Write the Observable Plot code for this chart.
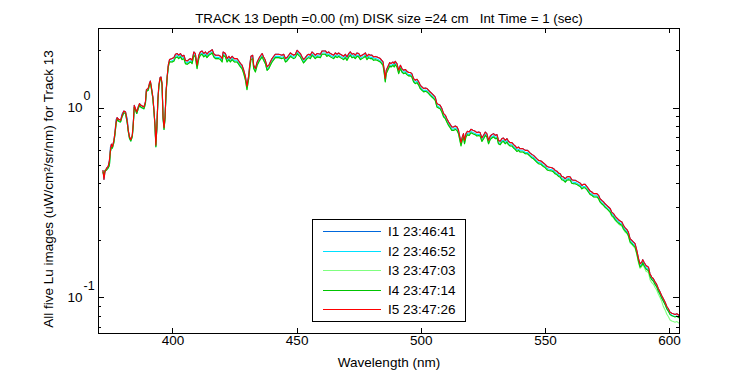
<!DOCTYPE html>
<html><head><meta charset="utf-8">
<script src="https://cdn.jsdelivr.net/npm/d3@7"></script>
<script src="https://cdn.jsdelivr.net/npm/@observablehq/plot@0.6"></script>
<style>
body{margin:0;background:#fff;}
#wrap{position:relative;width:750px;height:375px;font-family:"Liberation Sans",Arial,sans-serif;}
#legend{position:absolute;left:312px;top:219px;}
[aria-label="ylabel"] text{letter-spacing:1.1px;}
</style></head><body><div id="wrap"></div>
<script>
// Wavelength (nm) sample positions
const wavelength = [
371.8,372.2,372.6,373.2,373.9,374.4,374.8,375.2,375.6,376.2,
376.6,377.1,377.5,378.2,378.9,379.5,380.2,380.9,381.6,382.0,
382.5,383.0,383.6,384.0,384.4,384.9,385.4,386.0,386.5,387.1,
388.3,388.9,389.3,390.0,390.5,390.9,391.3,391.9,392.4,392.8,
393.1,393.5,393.9,394.3,394.8,395.2,395.6,396.0,396.4,396.8,
397.2,397.7,398.1,398.6,
399.7,400.4,401.0,401.7,402.3,403.0,403.7,404.4,405.0,405.7,
406.4,407.1,407.7,408.4,409.0,409.7,410.4,411.0,411.7,412.4,
413.1,413.7,414.4,415.1,415.8,416.4,417.1,418.4,419.1,419.8,
420.2,421.1,421.8,422.5,423.1,423.8,424.7,425.8,426.5,427.2,
427.8,428.5,429.2,429.8,430.5,430.9,431.4,432.1,432.5,433.2,
433.9,434.9,435.9,436.5,437.2,437.9,438.6,439.2,439.9,440.6,
441.2,442.6,443.9,444.6,445.3,445.9,446.6,447.3,448.0,448.6,
449.3,450.0,450.6,451.3,452.0,452.6,453.3,454.0,454.7,455.3,
456.0,456.7,457.3,458.0,459.4,460.0,461.4,462.0,462.7,463.4,
464.7,465.4,466.1,466.7,467.4,468.1,468.7,469.4,470.1,470.8,
471.4,472.1,472.8,473.4,474.1,474.8,475.5,476.1,476.8,477.5,
478.1,478.8,479.5,480.1,480.8,481.5,482.2,483.5,484.6,485.1,
485.5,485.9,486.5,487.3,487.8,488.6,489.1,489.5,490.2,490.9,
491.6,492.2,492.9,493.6,494.2,494.9,495.6,496.2,496.9,497.6,
498.3,499.0,499.6,500.3,501.0,501.6,502.3,503.0,503.6,504.3,
505.0,505.6,506.3,507.0,507.6,508.3,509.0,509.7,510.3,511.0,
511.7,512.3,513.0,513.7,514.4,515.0,515.4,516.0,516.5,517.0,
517.4,518.0,518.6,519.3,520.0,520.8,521.7,522.4,523.1,523.7,
524.4,525.1,525.8,526.4,527.1,527.8,528.4,529.1,529.8,530.5,
531.1,531.8,532.5,533.1,533.8,534.5,535.1,535.8,536.5,537.2,
537.8,538.5,539.2,539.8,540.9,541.9,542.8,543.9,544.5,545.2,
546.5,547.2,548.2,549.2,549.9,550.6,551.2,552.6,553.3,553.9,
554.6,555.3,555.9,556.6,557.3,558.0,558.6,559.3,560.0,560.6,
561.3,562.0,562.6,563.3,564.0,564.7,565.3,566.0,566.7,567.3,
568.0,568.7,569.4,570.7,571.4,572.0,572.7,573.4,574.0,574.7,
575.4,576.1,576.7,577.4,578.1,578.7,579.4,580.1,580.8,581.4,
582.1,582.8,583.4,584.1,584.8,585.4,586.1,586.8,587.5,588.1,
588.8,589.2,589.7,590.5,591.5,592.1,592.8,593.5,594.2,594.8,
595.5,596.2,596.8,597.5,598.2,598.9,599.5,600.2,600.9,601.5,
602.2,602.9,603.9
];

// I1 23:46:41 (blue)
const I1 = [
0.469,0.421,0.460,0.481,0.493,0.530,0.620,0.645,0.625,0.675,
0.738,0.870,0.890,0.869,0.861,0.930,0.964,0.953,0.870,0.763,
0.703,0.681,0.718,0.828,1.033,0.993,0.953,1.012,1.055,1.033,
1.012,1.076,1.250,1.266,1.345,1.388,1.290,1.143,0.953,0.794,
0.636,0.794,1.098,1.317,1.447,1.457,1.345,0.897,0.788,0.897,
1.214,1.487,1.680,1.799,
1.821,1.844,1.919,1.936,1.896,1.936,1.873,1.896,1.784,1.769,
1.799,1.821,1.784,1.974,1.936,1.680,1.896,1.974,1.998,1.936,
1.974,1.919,1.974,1.998,2.030,1.936,1.896,1.896,1.873,1.821,
1.974,1.936,1.821,1.873,1.821,1.873,1.821,1.821,1.769,1.714,
1.680,1.580,1.457,1.301,1.487,1.680,1.873,1.896,1.680,1.613,
1.748,1.857,1.936,1.857,1.784,1.645,1.680,1.748,1.821,1.873,
1.919,1.919,1.896,1.919,1.821,1.844,1.896,1.950,1.919,1.896,
1.919,2.015,1.974,1.936,1.857,1.799,1.844,1.896,1.919,1.896,
1.974,1.936,1.896,1.936,1.919,1.998,1.998,1.950,1.974,1.936,
1.896,1.950,1.919,1.950,1.919,1.896,1.873,1.919,1.857,1.936,
1.974,1.919,1.936,1.896,1.950,1.936,1.873,1.896,1.919,1.950,
1.873,1.919,1.896,1.900,1.857,1.870,1.857,1.821,1.748,1.580,
1.429,1.580,1.645,1.735,1.714,1.748,1.714,1.763,1.714,1.580,
1.680,1.613,1.580,1.596,1.561,1.537,1.537,1.518,1.429,1.400,
1.417,1.371,1.317,1.290,1.266,1.275,1.266,1.240,1.214,1.191,
1.167,1.143,1.055,1.042,1.033,0.993,0.934,0.915,0.879,0.844,
0.818,0.794,0.794,0.804,0.794,0.763,0.718,0.657,0.703,0.733,
0.675,0.733,0.754,0.747,0.772,0.763,0.754,0.742,0.747,0.742,
0.695,0.718,0.747,0.733,0.675,0.712,0.724,0.733,0.718,0.724,
0.675,0.668,0.690,0.695,0.675,0.690,0.668,0.657,0.657,0.641,
0.631,0.615,0.623,0.610,0.611,0.598,0.598,0.579,0.570,0.563,
0.541,0.530,0.526,0.513,0.505,0.493,0.489,0.485,0.479,0.469,
0.465,0.454,0.451,0.436,0.433,0.424,0.433,0.436,0.433,0.419,
0.416,0.416,0.412,0.407,0.402,0.391,0.396,0.396,0.386,0.376,
0.365,0.361,0.354,0.354,0.347,0.333,0.326,0.320,0.313,0.307,
0.301,0.295,0.283,0.278,0.269,0.264,0.258,0.254,0.251,0.241,
0.234,0.229,0.222,0.205,0.201,0.197,0.193,0.178,0.161,0.151,
0.154,0.159,0.154,0.148,0.145,0.134,0.1286,0.1261,0.1210,0.1177,
0.1117,0.1072,0.1029,0.0989,0.0949,0.0901,0.0876,0.0841,0.0830,0.0824,
0.0818,0.0824,0.0808
];

// I2 23:46:52 (cyan)
const I2 = [
0.460,0.440,0.470,0.470,0.483,0.500,0.590,0.620,0.615,0.660,
0.720,0.830,0.870,0.850,0.845,0.900,0.945,0.935,0.830,0.750,
0.690,0.670,0.705,0.810,1.010,0.975,0.935,0.990,1.035,1.010,
0.990,1.055,1.225,1.240,1.320,1.360,1.265,1.120,0.935,0.780,
0.625,0.780,1.075,1.290,1.420,1.430,1.320,0.880,0.770,0.880,
1.190,1.460,1.645,1.750,
1.775,1.798,1.871,1.888,1.849,1.888,1.826,1.849,1.739,1.725,
1.754,1.775,1.739,1.925,1.888,1.638,1.849,1.925,1.948,1.888,
1.925,1.871,1.925,1.948,1.979,1.888,1.849,1.849,1.826,1.775,
1.925,1.888,1.775,1.826,1.775,1.826,1.775,1.775,1.725,1.671,
1.638,1.541,1.421,1.268,1.450,1.638,1.826,1.849,1.638,1.573,
1.704,1.811,1.888,1.811,1.739,1.604,1.638,1.704,1.775,1.826,
1.871,1.871,1.849,1.871,1.775,1.798,1.849,1.901,1.871,1.849,
1.871,1.965,1.925,1.888,1.811,1.754,1.798,1.849,1.871,1.849,
1.925,1.888,1.849,1.888,1.871,1.948,1.948,1.901,1.925,1.888,
1.849,1.901,1.871,1.901,1.871,1.849,1.826,1.871,1.811,1.888,
1.925,1.871,1.888,1.849,1.901,1.888,1.826,1.849,1.871,1.901,
1.826,1.871,1.849,1.853,1.811,1.823,1.811,1.775,1.704,1.541,
1.393,1.541,1.604,1.692,1.671,1.704,1.671,1.719,1.671,1.541,
1.638,1.573,1.541,1.556,1.522,1.499,1.499,1.480,1.393,1.365,
1.382,1.337,1.284,1.258,1.234,1.243,1.234,1.209,1.184,1.161,
1.138,1.114,1.029,1.016,1.007,0.968,0.911,0.892,0.857,0.823,
0.798,0.774,0.774,0.784,0.774,0.744,0.700,0.641,0.685,0.715,
0.658,0.715,0.735,0.728,0.753,0.744,0.735,0.723,0.728,0.723,
0.678,0.700,0.728,0.715,0.658,0.694,0.706,0.715,0.700,0.706,
0.658,0.651,0.673,0.678,0.658,0.673,0.651,0.641,0.641,0.625,
0.615,0.600,0.607,0.595,0.596,0.583,0.583,0.565,0.556,0.549,
0.527,0.517,0.513,0.500,0.492,0.481,0.477,0.473,0.467,0.457,
0.453,0.443,0.440,0.425,0.422,0.413,0.422,0.425,0.422,0.409,
0.406,0.406,0.402,0.397,0.392,0.381,0.386,0.386,0.376,0.367,
0.356,0.352,0.345,0.345,0.338,0.325,0.318,0.312,0.305,0.299,
0.293,0.288,0.276,0.271,0.262,0.257,0.252,0.248,0.245,0.235,
0.228,0.223,0.216,0.200,0.196,0.192,0.188,0.174,0.157,0.147,
0.150,0.155,0.150,0.144,0.141,0.131,0.1254,0.1229,0.1180,0.1148,
0.1089,0.1045,0.1003,0.0964,0.0925,0.0878,0.0854,0.0820,0.0809,0.0803,
0.0798,0.0803,0.0788
];

// I3 23:47:03 (light green)
const I3 = [
0.460,0.440,0.470,0.470,0.483,0.500,0.590,0.620,0.615,0.660,
0.720,0.830,0.870,0.850,0.845,0.900,0.945,0.935,0.830,0.750,
0.690,0.670,0.705,0.810,1.010,0.975,0.935,0.990,1.035,1.010,
0.990,1.055,1.225,1.240,1.320,1.360,1.265,1.120,0.935,0.780,
0.625,0.780,1.075,1.290,1.420,1.430,1.320,0.880,0.770,0.880,
1.190,1.460,1.645,1.750,
1.748,1.770,1.842,1.859,1.820,1.859,1.798,1.820,1.713,1.698,
1.727,1.748,1.713,1.895,1.859,1.613,1.820,1.895,1.918,1.859,
1.895,1.842,1.895,1.918,1.949,1.859,1.820,1.820,1.798,1.748,
1.895,1.859,1.748,1.798,1.748,1.798,1.748,1.748,1.698,1.645,
1.613,1.517,1.399,1.249,1.428,1.613,1.798,1.820,1.613,1.548,
1.678,1.783,1.859,1.783,1.713,1.579,1.613,1.678,1.748,1.798,
1.842,1.842,1.820,1.842,1.748,1.770,1.820,1.872,1.842,1.820,
1.842,1.934,1.895,1.859,1.783,1.727,1.770,1.820,1.842,1.820,
1.895,1.859,1.820,1.859,1.842,1.918,1.918,1.872,1.895,1.859,
1.820,1.872,1.842,1.872,1.842,1.820,1.798,1.842,1.783,1.859,
1.895,1.842,1.859,1.820,1.872,1.859,1.798,1.820,1.842,1.872,
1.798,1.842,1.820,1.824,1.783,1.795,1.783,1.748,1.678,1.517,
1.372,1.517,1.579,1.666,1.645,1.678,1.645,1.692,1.645,1.517,
1.613,1.548,1.517,1.532,1.499,1.476,1.476,1.457,1.372,1.344,
1.360,1.316,1.264,1.238,1.215,1.224,1.215,1.190,1.165,1.143,
1.120,1.097,1.013,1.000,0.992,0.953,0.897,0.878,0.844,0.810,
0.785,0.762,0.762,0.772,0.762,0.732,0.689,0.631,0.675,0.704,
0.648,0.704,0.724,0.717,0.741,0.732,0.724,0.712,0.717,0.712,
0.667,0.689,0.717,0.704,0.648,0.684,0.695,0.704,0.689,0.695,
0.648,0.641,0.662,0.667,0.648,0.662,0.641,0.631,0.631,0.615,
0.606,0.590,0.598,0.586,0.587,0.574,0.574,0.556,0.547,0.540,
0.519,0.509,0.505,0.492,0.485,0.473,0.469,0.466,0.460,0.450,
0.446,0.436,0.433,0.419,0.416,0.407,0.416,0.419,0.416,0.402,
0.399,0.399,0.396,0.391,0.386,0.375,0.380,0.380,0.371,0.361,
0.350,0.347,0.340,0.340,0.333,0.320,0.313,0.307,0.300,0.295,
0.289,0.280,0.269,0.264,0.256,0.251,0.245,0.241,0.238,0.229,
0.222,0.218,0.211,0.195,0.191,0.187,0.183,0.169,0.153,0.143,
0.146,0.151,0.146,0.138,0.136,0.125,0.1202,0.1179,0.1131,0.1100,
0.1044,0.1002,0.0962,0.0900,0.0864,0.0820,0.0797,0.0765,0.0755,0.0750,
0.0744,0.0750,0.0735
];

// I4 23:47:14 (green)
const I4 = [
0.460,0.440,0.470,0.470,0.483,0.500,0.590,0.620,0.615,0.660,
0.720,0.830,0.870,0.850,0.845,0.900,0.945,0.935,0.830,0.750,
0.690,0.670,0.705,0.810,1.010,0.975,0.935,0.990,1.035,1.010,
0.990,1.055,1.225,1.240,1.320,1.360,1.265,1.120,0.935,0.780,
0.625,0.780,1.075,1.290,1.420,1.430,1.320,0.880,0.770,0.880,
1.190,1.460,1.645,1.750,
1.748,1.770,1.842,1.859,1.820,1.859,1.798,1.820,1.713,1.698,
1.727,1.748,1.713,1.895,1.859,1.613,1.820,1.895,1.918,1.859,
1.895,1.842,1.895,1.918,1.949,1.859,1.820,1.820,1.798,1.748,
1.895,1.859,1.748,1.798,1.748,1.798,1.748,1.748,1.698,1.645,
1.613,1.517,1.399,1.249,1.428,1.613,1.798,1.820,1.613,1.548,
1.678,1.783,1.859,1.783,1.713,1.579,1.613,1.678,1.748,1.798,
1.842,1.842,1.820,1.842,1.748,1.770,1.820,1.872,1.842,1.820,
1.842,1.934,1.895,1.859,1.783,1.727,1.770,1.820,1.842,1.820,
1.895,1.859,1.820,1.859,1.842,1.918,1.918,1.872,1.895,1.859,
1.820,1.872,1.842,1.872,1.842,1.820,1.798,1.842,1.783,1.859,
1.895,1.842,1.859,1.820,1.872,1.859,1.798,1.820,1.842,1.872,
1.798,1.842,1.820,1.824,1.783,1.795,1.783,1.748,1.678,1.517,
1.372,1.517,1.579,1.666,1.645,1.678,1.645,1.692,1.645,1.517,
1.613,1.548,1.517,1.532,1.499,1.476,1.476,1.457,1.372,1.344,
1.360,1.316,1.264,1.238,1.215,1.224,1.215,1.190,1.165,1.143,
1.120,1.097,1.013,1.000,0.992,0.953,0.897,0.878,0.844,0.810,
0.785,0.762,0.762,0.772,0.762,0.732,0.689,0.631,0.675,0.704,
0.648,0.704,0.724,0.717,0.741,0.732,0.724,0.712,0.717,0.712,
0.667,0.689,0.717,0.704,0.648,0.684,0.695,0.704,0.689,0.695,
0.648,0.641,0.662,0.667,0.648,0.662,0.641,0.631,0.631,0.615,
0.606,0.590,0.598,0.586,0.587,0.574,0.574,0.556,0.547,0.540,
0.519,0.509,0.505,0.492,0.485,0.473,0.469,0.466,0.460,0.450,
0.446,0.436,0.433,0.419,0.416,0.407,0.416,0.419,0.416,0.402,
0.399,0.399,0.396,0.391,0.386,0.375,0.380,0.380,0.371,0.361,
0.350,0.347,0.340,0.340,0.333,0.320,0.313,0.307,0.300,0.295,
0.289,0.283,0.272,0.267,0.258,0.253,0.248,0.244,0.241,0.231,
0.225,0.220,0.213,0.197,0.193,0.189,0.185,0.171,0.155,0.145,
0.148,0.153,0.148,0.142,0.139,0.130,0.1247,0.1223,0.1174,0.1142,
0.1083,0.1040,0.0998,0.0959,0.0921,0.0874,0.0850,0.0816,0.0805,0.0799,
0.0793,0.0799,0.0784
];

// I5 23:47:26 (red)
const I5 = [
0.469,0.421,0.460,0.481,0.493,0.530,0.600,0.645,0.625,0.675,
0.738,0.844,0.890,0.869,0.861,0.915,0.964,0.953,0.844,0.763,
0.703,0.681,0.718,0.828,1.033,0.993,0.953,1.012,1.055,1.033,
1.012,1.076,1.250,1.266,1.345,1.388,1.290,1.143,0.953,0.794,
0.636,0.794,1.098,1.317,1.447,1.457,1.345,0.897,0.788,0.897,
1.214,1.487,1.680,1.799,
1.821,1.844,1.919,1.936,1.896,1.936,1.873,1.896,1.784,1.769,
1.799,1.821,1.784,1.974,1.936,1.680,1.896,1.974,1.998,1.936,
1.974,1.919,1.974,1.998,2.030,1.936,1.896,1.896,1.873,1.821,
1.974,1.936,1.821,1.873,1.821,1.873,1.821,1.821,1.769,1.714,
1.680,1.580,1.457,1.301,1.487,1.680,1.873,1.896,1.680,1.613,
1.748,1.857,1.936,1.857,1.784,1.645,1.680,1.748,1.821,1.873,
1.919,1.919,1.896,1.919,1.821,1.844,1.896,1.950,1.919,1.896,
1.919,2.015,1.974,1.936,1.857,1.799,1.844,1.896,1.919,1.896,
1.974,1.936,1.896,1.936,1.919,1.998,1.998,1.950,1.974,1.936,
1.896,1.950,1.919,1.950,1.919,1.896,1.873,1.919,1.857,1.936,
1.974,1.919,1.936,1.896,1.950,1.936,1.873,1.896,1.919,1.950,
1.873,1.919,1.896,1.900,1.857,1.870,1.857,1.821,1.748,1.580,
1.429,1.580,1.645,1.735,1.714,1.748,1.714,1.763,1.714,1.580,
1.680,1.613,1.580,1.596,1.561,1.537,1.537,1.518,1.429,1.400,
1.417,1.371,1.317,1.290,1.266,1.275,1.266,1.240,1.214,1.191,
1.167,1.143,1.055,1.042,1.033,0.993,0.934,0.915,0.879,0.844,
0.818,0.794,0.794,0.804,0.794,0.763,0.718,0.657,0.703,0.733,
0.675,0.733,0.754,0.747,0.772,0.763,0.754,0.742,0.747,0.742,
0.695,0.718,0.747,0.733,0.675,0.712,0.724,0.733,0.718,0.724,
0.675,0.668,0.690,0.695,0.675,0.690,0.668,0.657,0.657,0.641,
0.631,0.615,0.623,0.610,0.611,0.598,0.598,0.579,0.570,0.563,
0.541,0.530,0.526,0.513,0.505,0.493,0.489,0.485,0.479,0.469,
0.465,0.454,0.451,0.436,0.433,0.424,0.433,0.436,0.433,0.419,
0.416,0.416,0.412,0.407,0.402,0.391,0.396,0.396,0.386,0.376,
0.365,0.361,0.354,0.354,0.347,0.333,0.326,0.320,0.313,0.307,
0.301,0.295,0.283,0.278,0.269,0.264,0.258,0.254,0.251,0.241,
0.234,0.229,0.222,0.205,0.201,0.197,0.193,0.178,0.161,0.151,
0.154,0.159,0.154,0.148,0.145,0.134,0.1286,0.1261,0.1210,0.1177,
0.1117,0.1072,0.1029,0.0989,0.0949,0.0901,0.0876,0.0841,0.0830,0.0824,
0.0818,0.0824,0.0808
];

const seriesNames = ["I1 23:46:41", "I2 23:46:52", "I3 23:47:03", "I4 23:47:14", "I5 23:47:26"];
const seriesColors = ["#0068dc", "#00e0ff", "#80ff80", "#00c400", "#ff0000"];
const xTicks = [400, 450, 500, 550, 600];
const yMajor = [1, 0.1];
const yExponents = ["0", "-1"];
const yMinor = [2, 0.9, 0.8, 0.7, 0.6, 0.5, 0.4, 0.3, 0.2, 0.09, 0.08, 0.07];
const titleText = "TRACK 13 Depth =0.00 (m) DISK size =24 cm\u00a0\u00a0\u00a0Int Time = 1 (sec)";
const xLabel = "Wavelength (nm)";
const yLabel = "All five Lu images (uW/cm\u00b2/sr/nm) for Track 13";

const seriesValues = [I1, I2, I3, I4, I5];
const rows = [];
seriesValues.forEach((arr, k) => {
  arr.forEach((v, i) => {
    if (wavelength[i] !== undefined) rows.push({wl: wavelength[i], v, s: seriesNames[k]});
  });
});

const W = 750, H = 375, mL = 98, mR = 71, mT = 28, mB = 42;
const fw = W - mL - mR, fh = H - mT - mB;
const font = "'Liberation Sans', Arial, sans-serif";

const chart = Plot.plot({
  width: W, height: H,
  marginLeft: mL, marginRight: mR, marginTop: mT, marginBottom: mB,
  style: {fontFamily: font, fontSize: "13.5px", background: "white", color: "black", overflow: "visible"},
  x: {domain: [370, 604], axis: null},
  y: {type: "log", domain: [0.0649, 2.623], axis: null},
  color: {domain: seriesNames, range: seriesColors},
  marks: [
    Plot.line(rows, {x: "wl", y: "v", z: "s", stroke: "s", strokeWidth: 1.1, clip: true}),
    Plot.frame({stroke: "black", shapeRendering: "crispEdges"}),
    Plot.tickX(xTicks, {x: d => d, insetTop: fh - 5, shapeRendering: "crispEdges"}),
    Plot.tickX(xTicks, {x: d => d, insetBottom: fh - 5, shapeRendering: "crispEdges"}),
    Plot.tickY(yMajor, {y: d => d, insetRight: fw - 6, shapeRendering: "crispEdges"}),
    Plot.tickY(yMajor, {y: d => d, insetLeft: fw - 6, shapeRendering: "crispEdges"}),
    Plot.tickY(yMinor, {y: d => d, insetRight: fw - 3, shapeRendering: "crispEdges"}),
    Plot.tickY(yMinor, {y: d => d, insetLeft: fw - 3, shapeRendering: "crispEdges"}),
    Plot.text(xTicks, {x: d => d, frameAnchor: "bottom", text: d => String(d), dy: 11, fontSize: 13.5}),
    Plot.text(yMajor, {y: d => d, frameAnchor: "left", text: () => "10", textAnchor: "end", dx: -16, fontSize: 13.5}),
    Plot.text(yMajor, {y: d => d, frameAnchor: "left", text: (d, i) => yExponents[i], textAnchor: "start", dx: -15, dy: -12, fontSize: 12.5}),
    Plot.text([titleText], {frameAnchor: "top", textAnchor: "middle", dy: -15, fontSize: 13.3}),
    Plot.text([xLabel], {frameAnchor: "bottom", textAnchor: "middle", dy: 33, fontSize: 13.5}),
    Plot.text([yLabel], {frameAnchor: "left", textAnchor: "middle", rotate: -90, dx: -50, dy: 8, fontSize: 13.5, ariaLabel: "ylabel"})
  ]
});

const wrap = document.getElementById("wrap");
wrap.appendChild(chart);

// Legend box
const leg = d3.create("svg").attr("id", "legend").attr("width", 155).attr("height", 104)
  .style("position", "absolute").style("left", "312px").style("top", "219px");
leg.append("rect").attr("x", 0.5).attr("y", 0.5).attr("width", 153).attr("height", 102)
  .attr("fill", "white").attr("stroke", "black").attr("shape-rendering", "crispEdges");
seriesNames.forEach((name, i) => {
  const yy = Math.round(12 + i * 19.5) + 0.5;
  leg.append("line").attr("x1", 11).attr("x2", 69).attr("y1", yy).attr("y2", yy)
    .attr("stroke", seriesColors[i]).attr("stroke-width", 1)
    .attr("shape-rendering", "crispEdges");
  leg.append("text").attr("x", 76).attr("y", yy).attr("dy", "0.36em")
    .attr("font-family", font).attr("font-size", 13.5).text(name);
});
wrap.appendChild(leg.node());
</script></body></html>
